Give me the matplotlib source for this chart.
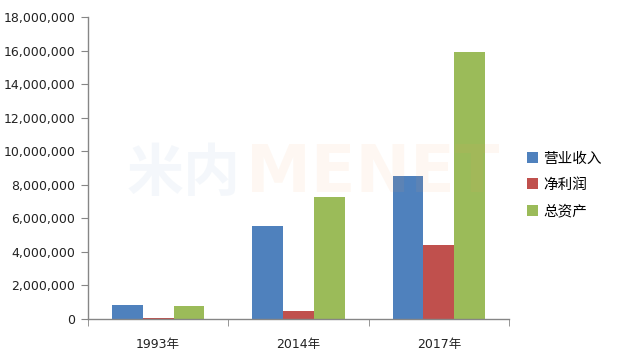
import matplotlib
matplotlib.use("Agg")
import matplotlib.pyplot as plt
import numpy as np
from matplotlib.ticker import FuncFormatter, FixedLocator

plt.rcParams['font.family'] = ['DejaVu Sans', 'Noto Sans CJK SC']

categories = ['1993年', '2014年', '2017年']
series_names = ['营业收入', '净利润', '总资产']
revenue = [830000, 5520000, 8520000]
profit = [50000, 480000, 4390000]
assets = [760000, 7270000, 15890000]
colors = ['#4F81BD', '#C0504D', '#9BBB59']

fig = plt.figure(figsize=(6.21, 3.57), dpi=100)
ax = fig.add_axes([88/621, 38/357, (509-88)/621, (319-17)/357])

x = np.arange(len(categories))
w = 0.22
for i, (vals, name) in enumerate(zip([revenue, profit, assets], series_names)):
    ax.bar(x + (i - 1) * w, vals, width=w, color=colors[i], label=name, zorder=2)

ax.set_xlim(-0.5, 2.5)
ax.set_ylim(0, 18000000)
ax.set_yticks(np.arange(0, 18000001, 2000000))
ax.yaxis.set_major_formatter(FuncFormatter(lambda v, p: f"{int(v):,}"))
ax.set_xticks(x)
ax.set_xticklabels(categories, family=['DejaVu Sans', 'Noto Sans CJK SC'])
ax.xaxis.set_minor_locator(FixedLocator([-0.5, 0.5, 1.5, 2.5]))
ax.tick_params(axis='x', which='major', length=0, pad=14, labelsize=9, colors='#222222')
ax.tick_params(axis='x', which='minor', length=5, color='#868686', direction='out')
ax.tick_params(axis='y', length=5, color='#868686', labelsize=9, colors='#222222', pad=4)
ax.tick_params(axis='y', color='#868686')

for s in ['top', 'right']:
    ax.spines[s].set_visible(False)
for s in ['left', 'bottom']:
    ax.spines[s].set_color('#868686')
    ax.spines[s].set_linewidth(1)

# faint watermark
fig.text(127/621, 1 - 174/357, '米内', fontsize=41, color='#4F81BD', alpha=0.06,
         family=['Noto Sans CJK SC'], fontweight='bold', va='center', zorder=0)
fig.text(246/621, 1 - 174/357, 'MENET', fontsize=47, color='#F5A05A', alpha=0.08,
         fontweight='bold', va='center', zorder=0)

leg = ax.legend(loc='center left', bbox_to_anchor=(1.012, 0.444), frameon=False,
                prop={'family': 'Noto Sans CJK SC', 'size': 10.5},
                handlelength=0.75, handleheight=0.75, handletextpad=0.35, labelspacing=0.85)

fig.savefig('out.png', dpi=100)
